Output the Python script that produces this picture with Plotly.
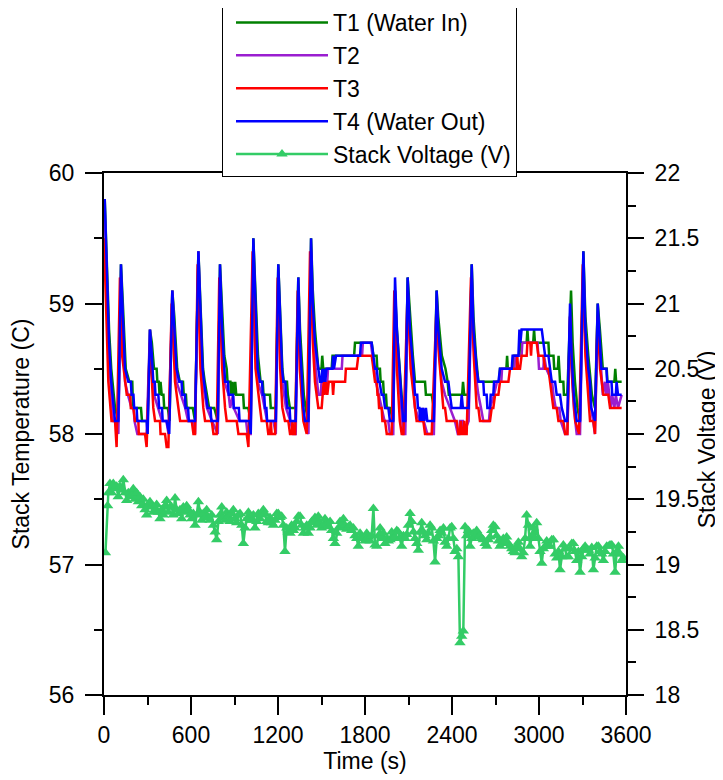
import plotly.graph_objects as go

# ---- Data (time in s, temperature in C, voltage in V) ----
T1_points = [(5,59.8),(20,59.3),(35,58.8),(50,58.5),(65,58.3),(76,58.2),(99,58.1),(117,59.3),
(130,59.0),(150,58.5),(175,58.4),(195,58.4),(200,58.2),(255,58.2),(262,58.1),(301,58.1),(317,58.8),
(330,58.7),(345,58.5),(363,58.5),(368,58.4),(378,58.4),(383,58.3),(390,58.4),(398,58.3),(410,58.3),(415,58.2),(440,58.2),(452,58.1),(471,59.1),
(485,58.9),(505,58.5),(523,58.4),(545,58.4),(550,58.3),(565,58.3),(570,58.2),(612,58.2),(628,58.1),(651,59.4),
(665,59.0),(683,58.5),(695,58.4),(710,58.3),(725,58.2),(760,58.2),(785,58.1),(800,59.3),
(815,58.9),(830,58.6),(846,58.5),(852,58.4),(872,58.4),(878,58.3),(886,58.4),(895,58.3),(905,58.4),(912,58.3),(960,58.3),(965,58.2),(995,58.2),(1012,58.1),(1030,59.5),
(1045,59.0),(1062,58.6),(1080,58.4),(1095,58.4),(1100,58.3),(1145,58.3),(1150,58.2),(1185,58.2),(1202,59.3),
(1215,58.9),(1230,58.5),(1240,58.4),(1262,58.4),(1268,58.3),(1282,58.2),(1322,58.2),(1340,59.2),
(1352,58.8),(1365,58.5),(1378,58.3),(1390,58.2),(1410,58.1),(1428,59.5),
(1440,59.1),(1455,58.8),(1478,58.5),(1500,58.5),(1505,58.6),(1512,58.5),(1570,58.5),(1576,58.6),(1725,58.6),(1731,58.7),(1846,58.7),
(1858,58.6),(1880,58.6),(1885,58.5),(1903,58.5),(1908,58.4),(1925,58.4),(1930,58.3),(1945,58.3),(1950,58.2),(1972,58.2),(1995,58.1),(2007,59.1),
(2020,58.8),(2038,58.5),(2052,58.3),(2064,58.2),(2078,58.1),(2094,59.2),
(2110,58.9),(2130,58.6),(2145,58.4),(2214,58.4),(2220,58.3),(2260,58.3),(2275,58.2),(2294,59.1),
(2305,58.9),(2330,58.6),(2355,58.5),(2370,58.4),(2378,58.3),(2470,58.3),(2476,58.4),(2484,58.3),(2515,58.3),(2536,59.3),
(2548,58.9),(2565,58.6),(2582,58.4),(2725,58.4),(2731,58.5),(2775,58.5),(2780,58.6),(2785,58.5),(2820,58.5),(2826,58.6),(2865,58.6),(2870,58.7),(2915,58.7),(2920,58.8),(2926,58.7),(2960,58.7),(2966,58.8),(2972,58.7),(3065,58.7),(3070,58.6),(3100,58.6),(3105,58.5),(3130,58.5),(3135,58.6),(3140,58.5),(3145,58.4),(3168,58.4),(3172,58.3),(3195,58.3),(3221,59.1),
(3232,58.7),(3248,58.4),(3265,58.2),(3283,58.1),(3306,59.4),
(3320,58.9),(3340,58.6),(3355,58.4),(3365,58.3),(3386,58.2),(3405,59.0),
(3420,58.8),(3430,58.6),(3440,58.5),(3467,58.5),(3472,58.4),(3520,58.4),(3526,58.5),(3532,58.4),(3570,58.4)]

T2_points = [(5,59.7),(20,59.1),(35,58.6),(50,58.3),(65,58.1),(80,58.1),(99,58.0),(117,59.2),
(130,58.8),(145,58.4),(165,58.3),(190,58.2),(205,58.2),(210,58.1),(230,58.0),(294,58.0),(317,58.8),
(330,58.5),(345,58.3),(375,58.2),(400,58.1),(430,58.1),(445,58.0),(471,59.1),
(485,58.7),(500,58.4),(530,58.3),(560,58.2),(580,58.1),(610,58.1),(628,58.0),(651,59.4),
(665,58.8),(680,58.4),(695,58.3),(710,58.2),(745,58.1),(785,58.0),(800,59.2),
(815,58.7),(830,58.4),(860,58.3),(870,58.2),(890,58.3),(895,58.2),(935,58.1),(980,58.1),(990,58.0),(1012,58.0),(1030,59.4),
(1045,58.8),(1060,58.4),(1090,58.3),(1110,58.2),(1125,58.1),(1168,58.1),(1185,58.0),(1202,59.2),
(1215,58.7),(1230,58.4),(1255,58.2),(1285,58.1),(1305,58.0),(1322,58.0),(1340,59.1),
(1352,58.6),(1365,58.3),(1380,58.1),(1410,58.0),(1428,59.4),
(1440,58.9),(1460,58.5),(1479,58.3),(1495,58.3),(1500,58.4),(1540,58.4),(1545,58.5),(1640,58.5),(1645,58.6),(1780,58.6),(1785,58.7),(1840,58.7),
(1850,58.6),(1862,58.5),(1875,58.4),(1895,58.3),(1915,58.2),(1935,58.1),(1960,58.1),(1972,58.0),(1995,58.0),(2007,59.1),
(2020,58.7),(2035,58.4),(2050,58.2),(2064,58.0),(2078,58.0),(2094,59.1),
(2110,58.7),(2133,58.4),(2145,58.2),(2175,58.1),(2190,58.1),(2200,58.2),(2205,58.1),(2230,58.0),(2275,58.0),(2294,59.0),
(2305,58.7),(2329,58.4),(2352,58.3),(2386,58.2),(2420,58.1),(2440,58.0),(2450,58.0),(2455,58.1),(2475,58.1),(2480,58.0),(2515,58.1),(2536,59.2),
(2548,58.7),(2570,58.4),(2582,58.3),(2600,58.2),(2616,58.1),(2655,58.1),(2662,58.2),(2690,58.3),(2710,58.4),(2740,58.4),(2745,58.5),(2830,58.5),(2835,58.6),(2880,58.6),(2885,58.7),(2990,58.7),(2995,58.6),(3000,58.5),(3030,58.5),(3035,58.6),(3050,58.5),(3090,58.4),(3100,58.3),(3115,58.2),(3140,58.2),(3150,58.1),(3180,58.0),(3195,58.0),(3214,58.9),
(3225,58.5),(3240,58.2),(3260,58.0),(3283,58.0),(3306,59.3),
(3320,58.7),(3340,58.4),(3360,58.2),(3386,58.0),(3405,58.9),
(3420,58.6),(3430,58.4),(3440,58.3),(3455,58.4),(3465,58.3),(3475,58.4),(3485,58.3),(3495,58.2),(3505,58.3),(3520,58.2),(3530,58.3),(3545,58.2),(3570,58.3)]

T3_points = [(0,59.5),(15,58.9),(30,58.4),(52,58.1),(76,58.1),(87,57.9),(110,59.2),
(125,58.6),(157,58.3),(180,58.3),(185,58.2),(202,58.2),(214,58.1),(237,58.1),(240,58.0),(283,58.0),(294,57.9),(317,58.7),
(340,58.2),(352,58.1),(386,58.1),(390,58.0),(421,58.0),(432,57.9),(444,57.9),(467,59.0),
(490,58.4),(513,58.2),(525,58.1),(605,58.1),(617,58.0),(628,58.0),(646,59.3),
(665,58.5),(685,58.2),(697,58.1),(743,58.1),(755,58.0),(777,58.0),(795,59.2),
(815,58.5),(835,58.2),(846,58.1),(915,58.1),(927,58.0),(984,58.0),(996,57.9),(1025,59.4),
(1045,58.5),(1076,58.2),(1087,58.1),(1122,58.1),(1133,58.0),(1145,58.0),(1150,58.1),(1156,58.0),(1180,58.0),(1198,59.2),
(1215,58.5),(1230,58.2),(1248,58.1),(1271,58.1),(1283,58.0),(1295,58.0),(1300,58.1),(1306,58.0),(1318,58.0),(1336,59.1),
(1350,58.5),(1375,58.1),(1398,58.0),(1421,59.4),
(1440,58.7),(1455,58.4),(1478,58.2),(1501,58.2),(1507,58.3),(1515,58.4),(1521,58.3),(1530,58.4),(1540,58.3),(1550,58.4),(1575,58.4),(1580,58.3),(1586,58.4),(1663,58.4),(1668,58.5),(1743,58.5),(1754,58.6),
(1846,58.6),(1858,58.5),(1869,58.4),(1881,58.4),(1886,58.3),(1892,58.3),(1897,58.2),(1915,58.2),(1920,58.1),(1938,58.1),(1950,58.0),(1984,58.0),(2002,59.1),
(2020,58.5),(2040,58.1),(2053,58.0),(2065,58.0),(2094,59.1),
(2115,58.5),(2145,58.2),(2156,58.1),(2202,58.1),(2214,58.0),(2260,58.0),(2294,59.0),
(2310,58.6),(2329,58.3),(2340,58.2),(2352,58.2),(2363,58.1),(2432,58.1),(2444,58.0),(2455,58.0),(2460,58.1),(2467,58.0),(2478,58.0),(2484,58.1),(2490,58.0),(2501,58.0),(2531,59.2),
(2550,58.6),(2570,58.2),(2582,58.2),(2593,58.1),(2662,58.1),(2674,58.2),(2685,58.2),(2697,58.3),(2720,58.3),(2731,58.4),(2789,58.4),(2800,58.5),(2846,58.5),(2850,58.6),(2856,58.5),(2869,58.5),(2880,58.6),(2915,58.6),(2920,58.7),(2940,58.7),(2945,58.6),(2950,58.7),(2984,58.7),(2996,58.6),(3030,58.6),(3042,58.5),(3065,58.5),(3076,58.4),(3088,58.3),(3099,58.2),(3122,58.2),(3134,58.1),(3168,58.1),(3180,58.0),(3196,58.0),(3214,58.9),
(3230,58.4),(3250,58.1),(3276,58.0),(3302,59.3),
(3320,58.6),(3352,58.1),(3375,58.1),(3386,58.0),(3403,58.9),
(3421,58.5),(3444,58.3),(3478,58.3),(3490,58.2),(3570,58.2)]

T4_points = [(5,59.8),(20,59.2),(35,58.7),(50,58.4),(65,58.2),(76,58.1),(99,58.1),(117,59.3),
(130,58.9),(145,58.5),(168,58.4),(185,58.4),(190,58.3),(203,58.3),(208,58.2),(225,58.2),(230,58.1),(294,58.1),(301,58.0),(317,58.8),
(330,58.6),(340,58.4),(350,58.4),(355,58.3),(375,58.3),(380,58.2),(400,58.2),(405,58.1),(432,58.1),(450,58.0),(471,59.1),
(485,58.8),(500,58.5),(519,58.4),(535,58.4),(540,58.3),(558,58.3),(563,58.2),(580,58.2),(585,58.1),(628,58.1),(651,59.4),
(665,58.9),(680,58.5),(690,58.4),(700,58.3),(715,58.2),(735,58.2),(740,58.1),(785,58.1),(800,59.3),
(815,58.8),(828,58.5),(835,58.4),(855,58.4),(860,58.3),(890,58.3),(895,58.2),(930,58.2),(935,58.1),(1004,58.1),(1012,58.0),(1030,59.5),
(1045,58.9),(1060,58.5),(1076,58.4),(1090,58.4),(1095,58.3),(1105,58.3),(1110,58.2),(1120,58.2),(1125,58.1),(1185,58.1),(1202,59.3),
(1215,58.8),(1228,58.5),(1237,58.4),(1250,58.4),(1255,58.3),(1265,58.2),(1280,58.2),(1285,58.1),(1322,58.1),(1340,59.2),
(1352,58.7),(1365,58.4),(1375,58.2),(1386,58.1),(1410,58.1),(1428,59.5),
(1440,59.0),(1455,58.7),(1479,58.5),(1490,58.4),(1500,58.4),(1505,58.5),(1512,58.4),(1520,58.5),(1525,58.4),(1535,58.5),(1575,58.5),(1580,58.6),(1586,58.5),(1600,58.6),(1766,58.6),(1772,58.7),(1846,58.7),
(1858,58.6),(1869,58.5),(1881,58.5),(1890,58.4),(1900,58.4),(1915,58.3),(1927,58.3),(1938,58.2),(1961,58.2),(1972,58.1),(1995,58.1),(2007,59.2),
(2020,58.8),(2035,58.5),(2050,58.3),(2064,58.1),(2078,58.1),(2094,59.2),
(2110,58.8),(2133,58.5),(2145,58.3),(2160,58.3),(2165,58.2),(2175,58.2),(2180,58.1),(2185,58.2),(2195,58.1),(2200,58.2),(2210,58.1),(2220,58.2),(2230,58.1),(2275,58.1),(2294,59.1),
(2305,58.8),(2329,58.5),(2352,58.4),(2375,58.4),(2386,58.3),(2398,58.2),(2460,58.2),(2467,58.3),(2475,58.2),(2515,58.2),(2536,59.3),
(2548,58.8),(2570,58.5),(2582,58.4),(2616,58.4),(2621,58.3),(2639,58.3),(2644,58.2),(2662,58.2),(2667,58.3),(2685,58.3),(2690,58.4),(2720,58.4),(2731,58.5),(2812,58.5),(2818,58.6),(2858,58.6),(2865,58.8),(2872,58.7),(2880,58.8),(3019,58.8),(3030,58.7),(3042,58.6),(3065,58.6),(3076,58.5),(3088,58.4),(3111,58.4),(3122,58.3),(3145,58.3),(3157,58.2),(3180,58.1),(3195,58.1),(3214,59.0),
(3225,58.6),(3240,58.3),(3260,58.1),(3283,58.1),(3306,59.4),
(3320,58.8),(3340,58.5),(3352,58.4),(3360,58.2),(3386,58.1),(3405,59.0),
(3420,58.7),(3430,58.5),(3465,58.5),(3470,58.4),(3500,58.4),(3505,58.3),(3530,58.3),(3535,58.4),(3545,58.3),(3570,58.3)]

V_points = [(10,19.09),(25,19.45),(30,19.55),(41,19.62),(52,19.55),(64,19.62),(75,19.58),(87,19.6),(98,19.52),(110,19.6),(122,19.57),(133,19.65),(145,19.55),(156,19.49),(168,19.55),(179,19.52),(191,19.53),(202,19.58),(214,19.50),(225,19.55),(237,19.48),(248,19.52),(260,19.45),(271,19.5),(283,19.42),(294,19.38),(306,19.46),(317,19.48),(329,19.44),(340,19.40),(352,19.42),(363,19.46),(375,19.40),(386,19.35),(398,19.42),(409,19.38),(421,19.45),(432,19.49),(444,19.40),(455,19.44),(467,19.44),(478,19.38),(490,19.51),(501,19.42),(513,19.39),(524,19.42),(536,19.35),(547,19.44),(559,19.40),(570,19.45),(582,19.42),(593,19.38),(605,19.35),(616,19.39),(628,19.30),(639,19.38),(651,19.48),(662,19.40),(674,19.34),(685,19.39),(697,19.36),(708,19.42),(720,19.36),(731,19.34),(743,19.38),(754,19.30),(766,19.25),(777,19.19),(789,19.33),(800,19.38),(812,19.44),(823,19.36),(835,19.34),(846,19.40),(858,19.37),(869,19.33),(881,19.39),(892,19.42),(904,19.35),(915,19.32),(927,19.38),(938,19.39),(950,19.30),(961,19.16),(973,19.28),(984,19.35),(996,19.40),(1007,19.34),(1019,19.34),(1030,19.38),(1041,19.28),(1053,19.33),(1064,19.39),(1076,19.35),(1087,19.38),(1099,19.42),(1110,19.39),(1122,19.33),(1133,19.32),(1145,19.36),(1156,19.32),(1168,19.30),(1179,19.34),(1191,19.39),(1202,19.39),(1214,19.36),(1225,19.37),(1237,19.30),(1248,19.10),(1260,19.28),(1271,19.25),(1283,19.24),(1294,19.30),(1306,19.26),(1317,19.28),(1329,19.33),(1340,19.37),(1352,19.37),(1363,19.30),(1375,19.24),(1386,19.28),(1398,19.30),(1409,19.24),(1421,19.28),(1432,19.33),(1444,19.32),(1455,19.36),(1467,19.30),(1478,19.37),(1490,19.32),(1501,19.28),(1513,19.30),(1524,19.35),(1536,19.31),(1547,19.29),(1559,19.33),(1570,19.26),(1582,19.20),(1593,19.16),(1605,19.24),(1616,19.28),(1628,19.33),(1639,19.29),(1651,19.35),(1662,19.30),(1674,19.27),(1685,19.29),(1697,19.30),(1708,19.26),(1720,19.28),(1731,19.22),(1743,19.20),(1754,19.14),(1766,19.24),(1777,19.21),(1789,19.20),(1800,19.18),(1812,19.24),(1823,19.21),
(1835,19.18),(1846,19.22),(1858,19.43),(1869,19.15),(1881,19.14),(1892,19.22),(1904,19.28),(1915,19.20),(1927,19.24),(1938,19.16),(1950,19.20),(1961,19.18),(1973,19.19),(1984,19.25),(1996,19.20),(2007,19.21),(2019,19.26),(2030,19.25),(2042,19.20),(2053,19.14),(2065,19.22),(2076,19.20),(2088,19.23),(2099,19.30),(2111,19.39),(2122,19.33),(2134,19.25),(2145,19.20),(2157,19.16),(2168,19.11),(2180,19.25),(2191,19.32),(2203,19.25),(2214,19.22),(2226,19.19),(2237,19.24),(2249,19.30),(2260,19.28),(2272,19.18),(2283,19.02),(2295,19.20),(2306,19.22),(2318,19.26),(2329,19.24),(2341,19.28),(2352,19.17),(2364,19.14),(2375,19.20),(2387,19.28),(2398,19.29),(2410,19.20),(2421,19.10),(2433,19.12),(2444,19.06),(2455,18.40),(2467,18.45),(2478,18.49),(2490,19.29),(2501,19.22),(2513,19.26),(2524,19.14),(2536,19.20),(2547,19.24),(2559,19.21),(2570,19.26),(2582,19.21),(2593,19.22),(2605,19.20),(2616,19.19),(2628,19.16),(2639,19.14),(2651,19.19),(2662,19.21),(2674,19.26),(2685,19.30),(2697,19.29),(2708,19.22),(2720,19.18),(2731,19.14),(2743,19.16),(2754,19.20),(2766,19.18),(2777,19.21),(2789,19.16),(2800,19.14),(2812,19.12),(2823,19.10),(2835,19.09),(2846,19.14),(2858,19.17),(2869,19.12),(2881,19.06),(2892,19.09),(2904,19.20),(2915,19.38),(2927,19.30),(2938,19.14),(2950,19.22),(2961,19.28),(2973,19.20),(2984,19.32),(2996,19.20),(3007,19.10),(3019,19.01),(3030,19.12),(3042,19.14),(3053,19.18),(3065,19.14),(3076,19.14),(3088,19.19),(3099,19.19),(3111,19.08),(3122,19.05),(3134,19.10),(3145,18.96),(3157,19.06),(3168,19.15),(3180,19.12),(3191,19.06),(3203,19.06),(3214,19.12),(3226,19.16),(3237,19.16),(3249,19.10),(3260,19.03),(3272,19.10),(3283,18.94),(3295,19.06),(3306,19.12),(3318,19.14),(3329,19.11),(3341,19.11),(3352,19.08),(3364,19.13),(3375,18.96),(3387,19.05),(3398,19.14),(3410,19.14),(3421,19.10),(3433,19.08),(3444,19.03),(3456,19.10),(3467,19.14),(3479,19.14),(3490,19.15),(3502,19.15),(3513,19.08),(3525,18.94),(3536,19.10),(3548,19.14),(3559,19.08),(3571,19.03),(3582,19.05)]

series_names = ["T1 (Water In)", "T2", "T3", "T4 (Water Out)"]
series_colors = ["#008000", "#9A1ED0", "#FF0000", "#0000FF"]
voltage_name = "Stack Voltage (V)"
voltage_color = "#33CC66"

x_ticks = [0, 600, 1200, 1800, 2400, 3000, 3600]

FONT = "Liberation Sans, Arial, sans-serif"
FS = 23

fig = go.Figure()
for pts, name, col in zip([T1_points, T2_points, T3_points, T4_points], series_names, series_colors):
    fig.add_trace(go.Scatter(
        x=[p[0] for p in pts], y=[p[1] for p in pts], name=name, mode="lines",
        line=dict(color=col, width=2.5), yaxis="y"))

fig.add_trace(go.Scatter(
    x=[p[0] for p in V_points], y=[p[1] for p in V_points], name=voltage_name,
    mode="lines+markers", line=dict(color=voltage_color, width=2.5),
    marker=dict(symbol="triangle-up", size=10, color=voltage_color), yaxis="y2"))

axis_common = dict(showline=True, linecolor="black", linewidth=2, showgrid=False, zeroline=False,
                   ticks="outside", tickcolor="black", tickwidth=2, automargin=False,
                   tickfont=dict(family=FONT, size=FS, color="black"))

# the page body adds an 8px offset, so the figure is 8px smaller on each side
fig.update_layout(
    width=715, height=772,
    margin=dict(l=96, r=97, t=165, b=85, autoexpand=False),
    paper_bgcolor="white", plot_bgcolor="white",
    font=dict(family=FONT, size=FS, color="black"),
    xaxis=dict(range=[0, 3600], tickvals=x_ticks, ticklen=18, mirror=True,
               minor=dict(dtick=300, ticklen=8, tickwidth=2, ticks="outside", tickcolor="black"),
               title=dict(text="Time (s)", font=dict(family=FONT, size=FS), standoff=0),
               **axis_common),
    yaxis=dict(range=[56, 60], dtick=1, ticklen=17, ticklabelstandoff=6,
               minor=dict(dtick=0.5, ticklen=8, tickwidth=2, ticks="outside", tickcolor="black"),
               title=dict(text="Stack Temperature (C)", font=dict(family=FONT, size=FS), standoff=14),
               **axis_common),
    yaxis2=dict(range=[18, 22], dtick=0.5, ticklen=16, overlaying="y", side="right",
                ticklabelstandoff=6,
                minor=dict(dtick=0.25, ticklen=8, tickwidth=2, ticks="outside", tickcolor="black"),
                **axis_common),
    legend=dict(x=(222 - 104) / 522, y=1 + 173 / 522, xanchor="left", yanchor="top",
                bordercolor="black", borderwidth=1, bgcolor="white", indentation=8,
                font=dict(family=FONT, size=FS), itemwidth=92, tracegroupgap=0),
    showlegend=True,
    annotations=[dict(text="Stack Voltage (V)", textangle=-90, xref="paper", yref="paper",
                      x=(707 - 104) / 522, y=0.49, xanchor="center", yanchor="middle",
                      showarrow=False, font=dict(family=FONT, size=FS, color="black"))],
)

fig.write_html("out.html")
